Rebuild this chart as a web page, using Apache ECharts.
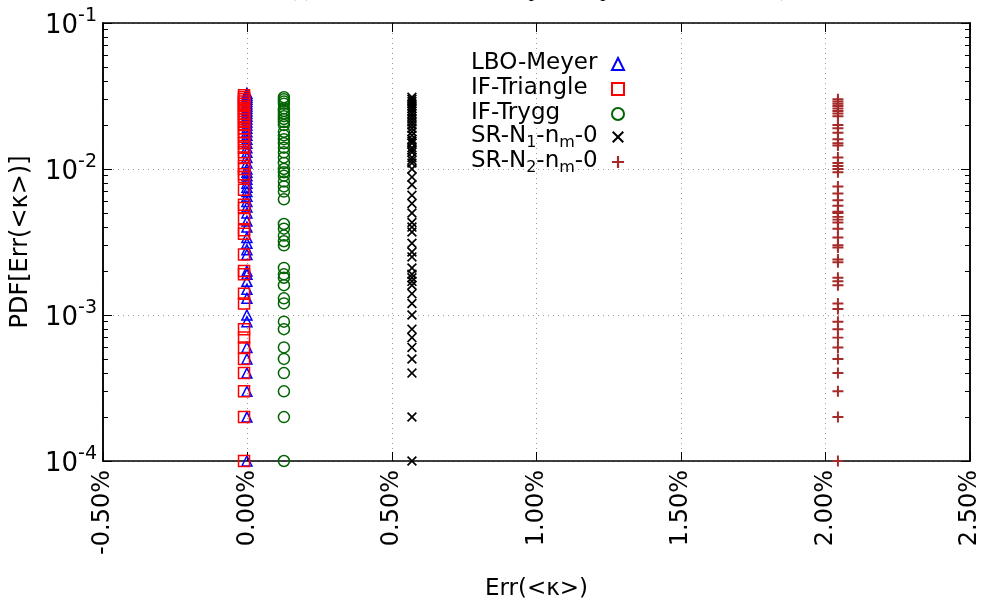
<!DOCTYPE html>
<html>
<head>
<meta charset="utf-8">
<script src="https://cdn.jsdelivr.net/npm/echarts@6/dist/echarts.min.js"></script>
<style>
  html, body { margin: 0; padding: 0; background: #fff; }
  #chart { width: 983px; height: 600px; }
</style>
</head>
<body>
<div id="chart"></div>
<script>
// x tick labels (percent) and y decades
const xTicks = [-0.5, 0, 0.5, 1.0, 1.5, 2.0, 2.5];
const yDecades = [1e-4, 1e-3, 1e-2, 1e-1];
const yMinor = [2e-4, 3e-4, 4e-4, 5e-4, 6e-4, 7e-4, 8e-4, 9e-4,
                2e-3, 3e-3, 4e-3, 5e-3, 6e-3, 7e-3, 8e-3, 9e-3,
                2e-2, 3e-2, 4e-2, 5e-2, 6e-2, 7e-2, 8e-2, 9e-2];

const seriesNames = ['LBO-Meyer', 'IF-Triangle', 'IF-Trygg', 'SR-N1-nm-0', 'SR-N2-nm-0'];
// error position of each method (in %)
const seriesErr = [-0.002, -0.012, 0.126, 0.569, 2.043];

// PDF values
const lboMeyer = [3.3e-2, 3.2e-2, 3.1e-2, 3.0e-2, 2.9e-2, 2.8e-2, 2.7e-2, 2.6e-2, 2.5e-2, 2.4e-2,
  2.3e-2, 2.2e-2, 2.1e-2, 2.0e-2, 1.9e-2, 1.8e-2, 1.7e-2, 1.6e-2, 1.5e-2, 1.4e-2, 1.3e-2, 1.2e-2,
  1.1e-2, 1.0e-2, 9.5e-3, 9e-3, 8.5e-3, 8e-3, 7.5e-3, 7e-3, 6.5e-3, 6e-3, 5.5e-3, 5e-3,
  4.4e-3, 4e-3, 3.4e-3, 3.1e-3, 2.8e-3, 2.6e-3, 2e-3, 1.9e-3, 1.7e-3, 1.5e-3, 1.3e-3,
  1e-3, 9e-4, 6e-4, 5e-4, 4e-4, 3e-4, 2e-4, 1e-4];
const ifTriangle = [3.2e-2, 3.1e-2, 3.0e-2, 2.9e-2, 2.8e-2, 2.7e-2, 2.6e-2, 2.5e-2, 2.4e-2, 2.3e-2,
  2.2e-2, 2.1e-2, 2.0e-2, 1.9e-2, 1.8e-2, 1.7e-2, 1.6e-2, 1.5e-2, 1.4e-2, 1.3e-2, 1.2e-2,
  1.05e-2, 1e-2, 9.2e-3, 8.8e-3, 7.2e-3, 5.7e-3, 5.4e-3, 4.6e-3, 3.8e-3, 3.6e-3, 2.6e-3,
  2e-3, 1.9e-3, 1.4e-3, 1.2e-3, 8e-4, 7e-4, 6e-4, 5e-4, 4e-4, 3e-4, 2e-4, 1e-4];
const ifTrygg = [3.1e-2, 3.0e-2, 2.9e-2, 2.8e-2, 2.6e-2, 2.5e-2, 2.4e-2, 2.3e-2, 2.2e-2, 2.1e-2,
  2.0e-2, 1.8e-2, 1.7e-2, 1.6e-2, 1.5e-2, 1.4e-2, 1.3e-2, 1.2e-2, 1.1e-2, 1.0e-2, 9.5e-3,
  9e-3, 8.2e-3, 7.6e-3, 7e-3, 6.2e-3, 4.2e-3, 3.9e-3, 3.5e-3, 3.2e-3, 3.0e-3, 2.1e-3,
  1.9e-3, 1.8e-3, 1.6e-3, 1.3e-3, 1.2e-3, 9e-4, 8e-4, 6e-4, 5e-4, 4e-4, 3e-4, 2e-4, 1e-4];
const srN1 = [3.1e-2, 3.0e-2, 2.9e-2, 2.8e-2, 2.7e-2, 2.6e-2, 2.5e-2, 2.4e-2, 2.3e-2, 2.2e-2,
  2.1e-2, 2.0e-2, 1.9e-2, 1.8e-2, 1.7e-2, 1.6e-2, 1.55e-2, 1.5e-2, 1.4e-2, 1.35e-2, 1.3e-2,
  1.2e-2, 1.15e-2, 1.1e-2, 1.0e-2, 8.8e-3, 7.8e-3, 6.6e-3, 5.8e-3, 5e-3, 4.3e-3, 4e-3,
  3.7e-3, 3.1e-3, 2.7e-3, 2.5e-3, 2.1e-3, 1.9e-3, 1.8e-3, 1.7e-3, 1.6e-3, 1.4e-3, 1.2e-3,
  1e-3, 8e-4, 7e-4, 6e-4, 5e-4, 4e-4, 2e-4, 1e-4];
const srN2 = [3e-2, 2.9e-2, 2.8e-2, 2.7e-2, 2.6e-2, 2.5e-2, 2.4e-2, 2.3e-2, 2e-2, 1.9e-2,
  1.77e-2, 1.6e-2, 1.5e-2, 1.45e-2, 1.2e-2, 1.1e-2, 1.05e-2, 1e-2, 9.5e-3, 7.6e-3, 6.8e-3,
  6.1e-3, 5.6e-3, 5.1e-3, 5e-3, 4.7e-3, 4.5e-3, 4.3e-3, 3.9e-3, 3.4e-3, 3e-3, 2.9e-3,
  2.4e-3, 2.3e-3, 1.8e-3, 1.7e-3, 1.6e-3, 1.2e-3, 1.1e-3, 9e-4, 8e-4, 7e-4, 6e-4, 5e-4,
  4e-4, 3e-4, 2e-4, 1e-4];

const seriesValues = [lboMeyer, ifTriangle, ifTrygg, srN1, srN2];

const plusPath = 'path://M4.1,0L5.9,0L5.9,4.1L10,4.1L10,5.9L5.9,5.9L5.9,10L4.1,10L4.1,5.9L0,5.9L0,4.1L4.1,4.1Z';
const crossPath = 'path://M1.2,0L5,3.8L8.8,0L10,1.2L6.2,5L10,8.8L8.8,10L5,6.2L1.2,10L0,8.8L3.8,5L0,1.2Z';
const markStyles = [
  { symbol: 'triangle', size: 10, color: 'rgba(0,0,0,0)', border: '#0000ff' },
  { symbol: 'rect', size: 11, color: 'rgba(0,0,0,0)', border: '#ff0000' },
  { symbol: 'circle', size: 11, color: 'rgba(0,0,0,0)', border: '#006400' },
  { symbol: crossPath, size: 10, color: '#000000', border: null },
  { symbol: plusPath, size: 11, color: '#a52a2a', border: null }
];

const FONT = 'DejaVu Sans';
let chart = echarts.init(document.getElementById('chart'));

let series = seriesNames.map(function (name, i) {
  let st = markStyles[i];
  return {
    name: name,
    type: 'scatter',
    xAxisIndex: 0,
    yAxisIndex: 0,
    symbol: st.symbol,
    symbolSize: st.size,
    itemStyle: st.border
      ? { color: st.color, borderColor: st.border, borderWidth: 1.5, opacity: 1 }
      : { color: st.color, opacity: 1 },
    emphasis: { disabled: true },
    data: seriesValues[i].map(function (v) { return [seriesErr[i], v]; })
  };
});

// one legend block per row so the rows keep an even spacing
let legends = seriesNames.map(function (name, i) {
  let hasSub = name.indexOf('SR-') === 0;
  return {
    orient: 'vertical',
    left: 471,
    top: 50 + 25 * i + (hasSub ? 0 : 2),
    padding: 0,
    align: 'right',
    itemWidth: 12,
    itemHeight: 12,
    selectedMode: false,
    data: [name],
    formatter: function (n) {
      if (n === 'SR-N1-nm-0') return '{t|SR-N}{sub|1}{t|-n}{sub|m}{t|-0}';
      if (n === 'SR-N2-nm-0') return '{t|SR-N}{sub|2}{t|-n}{sub|m}{t|-0}';
      return '{t|' + n + '}';
    },
    textStyle: {
      width: 136,
      align: 'left',
      fontFamily: FONT,
      fontSize: 23,
      color: '#000',
      rich: {
        t: { fontFamily: FONT, fontSize: 23, color: '#000', lineHeight: 24, align: 'left', verticalAlign: 'top' },
        sub: { fontFamily: FONT, fontSize: 16, color: '#000', lineHeight: 14, padding: [10, 0, 0, 0], align: 'left', verticalAlign: 'top' }
      }
    }
  };
});

function logAxis(pos, minor, labels) {
  return {
    type: 'log',
    logBase: 10,
    position: pos,
    min: yDecades[0],
    max: yDecades[yDecades.length - 1],
    axisLine: { show: true, onZero: false, lineStyle: { color: '#000', width: 1.5 } },
    axisTick: minor
      ? { show: true, inside: true, length: 5, customValues: yMinor, lineStyle: { color: '#000', width: 1 } }
      : { show: true, inside: true, length: 9, customValues: yDecades, lineStyle: { color: '#000', width: 1 } },
    axisLabel: labels ? {
      show: true,
      customValues: yDecades,
      margin: 6,
      formatter: function (v) {
        return '{b|10}{s|' + Math.round(Math.log10(v)) + '}';
      },
      rich: {
        b: { fontFamily: FONT, fontSize: 26, color: '#000', lineHeight: 32, verticalAlign: 'bottom' },
        s: { fontFamily: FONT, fontSize: 19, color: '#000', lineHeight: 32, verticalAlign: 'top' }
      }
    } : { show: false },
    splitLine: labels
      ? { show: true, lineStyle: { color: '#9a9a9a', type: [1, 4], width: 1 } }
      : { show: false },
    minorTick: { show: false },
    name: labels ? 'PDF[Err(<κ>)]' : '',
    nameLocation: 'middle',
    nameGap: 70,
    nameTextStyle: { fontFamily: FONT, fontSize: 24, color: '#000' }
  };
}

let option = {
  animation: false,
  backgroundColor: '#fff',
  title: {
    text: '(a) Relative error of the computed expectation ⟨κ⟩, n = 10⁴)',
    left: 284,
    top: -25,
    textStyle: { fontFamily: 'Liberation Serif', fontSize: 21, fontWeight: 'normal', color: '#000' }
  },
  grid: { left: 103, right: 13, top: 23, bottom: 139, outerBoundsMode: 'none', containLabel: false },
  legend: legends,
  xAxis: [
    {
      type: 'value',
      position: 'bottom',
      min: xTicks[0],
      max: xTicks[xTicks.length - 1],
      interval: 0.5,
      axisLine: { show: true, onZero: false, lineStyle: { color: '#000', width: 1.5 } },
      axisTick: { show: true, inside: true, length: 9, lineStyle: { color: '#000', width: 1 } },
      axisLabel: {
        rotate: 90,
        margin: 9,
        fontFamily: FONT,
        fontSize: 24,
        color: '#000',
        formatter: function (v) { return v.toFixed(2) + '%'; }
      },
      splitLine: { show: true, lineStyle: { color: '#9a9a9a', type: [1, 4], width: 1 } },
      name: 'Err(<κ>)',
      nameLocation: 'middle',
      nameGap: 117,
      nameTextStyle: { fontFamily: FONT, fontSize: 23, color: '#000' }
    },
    {
      type: 'value',
      position: 'top',
      min: xTicks[0],
      max: xTicks[xTicks.length - 1],
      interval: 0.5,
      axisLine: { show: true, onZero: false, lineStyle: { color: '#000', width: 1.5 } },
      axisTick: { show: true, inside: true, length: 9, lineStyle: { color: '#000', width: 1 } },
      axisLabel: { show: false },
      splitLine: { show: false }
    }
  ],
  yAxis: [
    logAxis('left', false, true),
    logAxis('left', true, false),
    logAxis('right', false, false),
    logAxis('right', true, false)
  ],
  series: series
};

chart.setOption(option);
</script>
</body>
</html>
